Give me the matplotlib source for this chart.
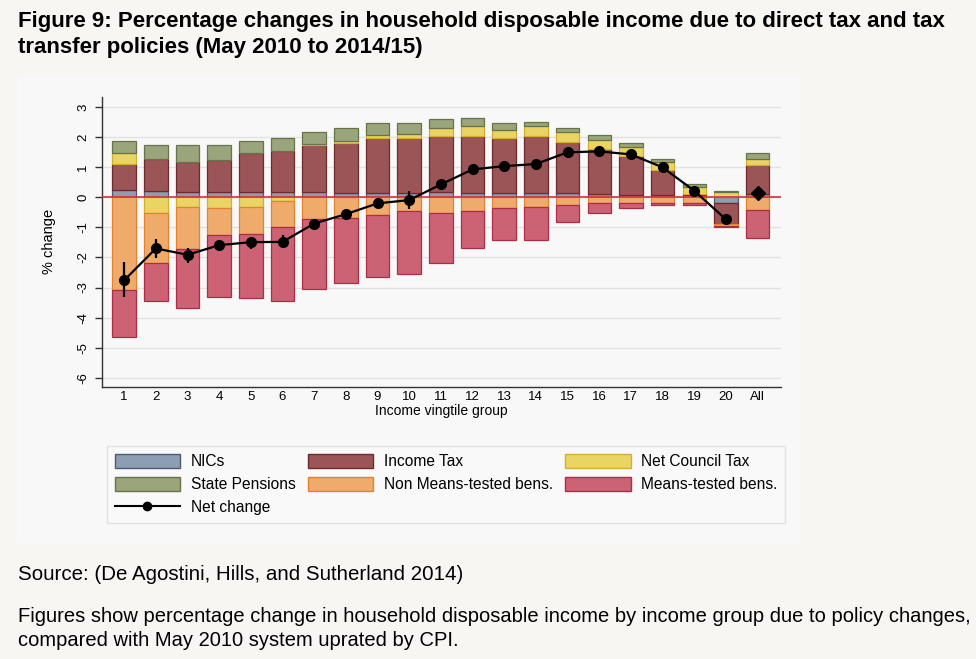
import matplotlib
matplotlib.use("Agg")
import matplotlib.pyplot as plt
import numpy as np
from matplotlib.patches import Patch, Rectangle
from matplotlib.lines import Line2D

plt.rcParams['font.family'] = ['Liberation Sans', 'DejaVu Sans']

categories = [str(i) for i in range(1, 21)] + ["All"]

nics = [0.24, 0.22, 0.18, 0.18, 0.18, 0.18, 0.18, 0.16, 0.16, 0.16, 0.19, 0.16, 0.16, 0.16, 0.16, 0.11, 0.09, 0.07, 0.09, -0.20, 0.10]
income_tax = [0.87, 1.06, 0.99, 1.06, 1.29, 1.36, 1.56, 1.66, 1.81, 1.81, 1.85, 1.88, 1.83, 1.88, 1.67, 1.49, 1.30, 0.83, 0.02, -0.67, 0.98]
council_tax = [0.38, -0.51, -0.31, -0.37, -0.33, -0.11, 0.04, 0.06, 0.11, 0.15, 0.26, 0.32, 0.25, 0.32, 0.33, 0.31, 0.30, 0.27, 0.25, 0.17, 0.19]
state_pensions = [0.39, 0.46, 0.57, 0.50, 0.41, 0.45, 0.41, 0.44, 0.41, 0.37, 0.31, 0.27, 0.23, 0.15, 0.16, 0.16, 0.11, 0.11, 0.08, 0.05, 0.22]
non_means = [-3.07, -1.67, -1.42, -0.89, -0.90, -0.87, -0.73, -0.68, -0.57, -0.44, -0.51, -0.46, -0.37, -0.33, -0.26, -0.20, -0.20, -0.19, -0.20, -0.07, -0.41]
means_tested = [-1.57, -1.26, -1.95, -2.07, -2.13, -2.48, -2.33, -2.16, -2.07, -2.12, -1.67, -1.24, -1.05, -1.09, -0.55, -0.33, -0.17, -0.07, -0.04, -0.04, -0.93]

net_change = [-2.76, -1.70, -1.91, -1.59, -1.49, -1.48, -0.87, -0.56, -0.20, -0.09, 0.43, 0.93, 1.04, 1.11, 1.50, 1.53, 1.43, 1.00, 0.22, -0.73, 0.16]
ci_low = [-3.33, -2.03, -2.18, -1.76, -1.72, -1.70, -1.03, -0.70, -0.36, -0.40, 0.33, 0.83, 0.95, 1.02, 1.41, 1.45, 1.35, 0.93, 0.15, -0.80, 0.12]
ci_high = [-2.15, -1.37, -1.67, -1.42, -1.41, -1.26, -0.74, -0.40, -0.06, 0.21, 0.53, 1.03, 1.13, 1.20, 1.59, 1.61, 1.51, 1.07, 0.29, -0.66, 0.20]

yticks = [-6, -5, -4, -3, -2, -1, 0, 1, 2, 3]

series = [
    ("NICs", nics, "#8d9db2", "#4d5a78"),
    ("Income Tax", income_tax, "#9c5556", "#6e2a2c"),
    ("Net Council Tax", council_tax, "#ead464", "#d2b02e"),
    ("State Pensions", state_pensions, "#9aa57b", "#66744a"),
    ("Non Means-tested bens.", non_means, "#eeab6b", "#e5822e"),
    ("Means-tested bens.", means_tested, "#cc6374", "#b02c45"),
]

page_bg = "#f7f6f3"
panel_bg = "#f8f8f8"

fig = plt.figure(figsize=(9.76, 6.59), dpi=100, facecolor=page_bg)
fig.patches.append(Rectangle((17 / 976, 1 - 543 / 659), (800 - 17) / 976, (543 - 78) / 659,
                             transform=fig.transFigure, facecolor=panel_bg, edgecolor="none", zorder=-10))

ax = fig.add_axes([101.7 / 976, 1 - 386.7 / 659, (781 - 101.7) / 976, (386.7 - 96.7) / 659])
ax.set_zorder(1)
ax.set_facecolor(panel_bg)

x = np.arange(len(categories))
width = 0.74
pos_base = np.zeros(len(categories))
neg_base = np.zeros(len(categories))
handles = {}
for name, vals, fc, ec in series:
    v = np.array(vals, dtype=float)
    bottoms = np.where(v >= 0, pos_base, neg_base)
    ax.bar(x, v, width, bottom=bottoms, color=fc, edgecolor=ec, linewidth=0.9, zorder=3)
    pos_base = pos_base + np.where(v >= 0, v, 0)
    neg_base = neg_base + np.where(v < 0, v, 0)
    handles[name] = Patch(facecolor=fc, edgecolor=ec, linewidth=1.0)

ax.axhline(0, color="#d9303a", linewidth=1.2, zorder=4)

nc = np.array(net_change)
lo = np.array(ci_low)
hi = np.array(ci_high)
ax.vlines(x, lo, hi, color="black", linewidth=1.6, zorder=5)
ax.plot(x[:-1], nc[:-1], color="black", linewidth=1.6, marker="o", markersize=7, zorder=6)
ax.plot(x[-1:], nc[-1:], color="black", linestyle="none", marker="D", markersize=7, zorder=6)

ax.set_xlim(-0.71, 20.74)
ax.set_ylim(-6.3, 3.35)
ax.set_yticks(yticks)
ax.set_yticklabels([str(t) for t in yticks], rotation=90, va="center", fontsize=9.5)
ax.set_xticks(x)
ax.set_xticklabels(categories, fontsize=9.5)
ax.tick_params(axis="x", length=0, pad=3)
ax.tick_params(axis="y", length=5, width=1, pad=4, color="#333333")
ax.yaxis.grid(True, color="#e2e2e2", linewidth=1.0, zorder=0)
ax.set_axisbelow(True)
for s in ["top", "right"]:
    ax.spines[s].set_visible(False)
for s in ["left", "bottom"]:
    ax.spines[s].set_color("#333333")
    ax.spines[s].set_linewidth(1.0)
ax.set_xlabel("Income vingtile group", fontsize=10, labelpad=1)
ax.set_ylabel("% change", fontsize=10.5)
ax.yaxis.set_label_coords(-0.067, 0.5)

net_handle = Line2D([], [], color="black", linewidth=1.5, marker="o", markersize=6)
order = ["NICs", "State Pensions", None, "Income Tax", "Non Means-tested bens.", "Net Council Tax", "Means-tested bens."]
hs, ls = [], []
for n in order:
    if n is None:
        hs.append(net_handle); ls.append("Net change")
    else:
        hs.append(handles[n]); ls.append(n)
leg = fig.legend(hs, ls, ncol=3, loc="upper left", bbox_to_anchor=(107 / 976, 1 - 446 / 659),
                 borderaxespad=0, fontsize=11.2, frameon=True, fancybox=False,
                 handlelength=4.2, handleheight=1.0, handletextpad=0.68, columnspacing=0.8,
                 labelspacing=0.5, borderpad=0.5)
leg.get_frame().set_facecolor("#fafafa")
leg.get_frame().set_edgecolor("#dddddd")
leg.get_frame().set_linewidth(1.0)

fig.text(18 / 976, 1 - 22 / 659,
         "Figure 9: Percentage changes in household disposable income due to direct tax and tax",
         fontsize=16, fontweight="bold", va="center", ha="left")
fig.text(18 / 976, 1 - 47 / 659, "transfer policies (May 2010 to 2014/15)",
         fontsize=16, fontweight="bold", va="center", ha="left")
fig.text(18 / 976, 1 - 575 / 659, "Source: (De Agostini, Hills, and Sutherland 2014)",
         fontsize=14.8, va="center", ha="left")
fig.text(18 / 976, 1 - 617 / 659,
         "Figures show percentage change in household disposable income by income group due to policy changes,",
         fontsize=14.5, va="center", ha="left")
fig.text(18 / 976, 1 - 640 / 659, "compared with May 2010 system uprated by CPI.",
         fontsize=14.5, va="center", ha="left")

fig.savefig("out.png", dpi=100, facecolor=page_bg)
